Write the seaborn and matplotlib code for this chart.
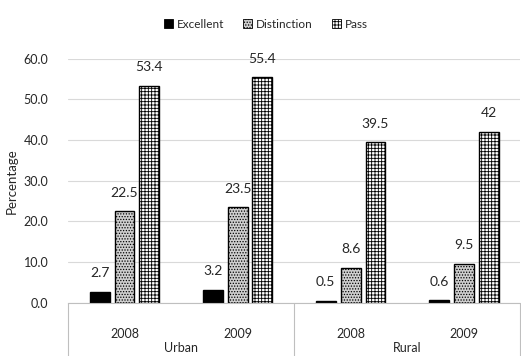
import numpy as np
import pandas as pd
import matplotlib
matplotlib.use('Agg')
import matplotlib.pyplot as plt
import seaborn as sns
from matplotlib.patches import Patch

# data
areas = ['Urban', 'Urban', 'Rural', 'Rural']
years = ['2008', '2009', '2008', '2009']
grades = ['Excellent', 'Distinction', 'Pass']
excellent = [2.7, 3.2, 0.5, 0.6]
distinction = [22.5, 23.5, 8.6, 9.5]
passed = [53.4, 55.4, 39.5, 42.0]
label_text = {
    'Excellent': ['2.7', '3.2', '0.5', '0.6'],
    'Distinction': ['22.5', '23.5', '8.6', '9.5'],
    'Pass': ['53.4', '55.4', '39.5', '42'],
}
y_ticks = [0, 10, 20, 30, 40, 50, 60]

slot = [f'{a}\n{y}' for a, y in zip(areas, years)]
df = pd.DataFrame({
    'slot': slot * 3,
    'grade': np.repeat(grades, len(slot)),
    'value': excellent + distinction + passed,
})

sns.set_theme(style='white')
plt.rcParams['font.family'] = ['Lato', 'DejaVu Sans']
plt.rcParams['hatch.linewidth'] = 0.6

fig = plt.figure(figsize=(5.21, 3.56), dpi=100)
ax = fig.add_axes([0.1305, 0.15, 0.868, 0.685])

sns.barplot(data=df, x='slot', y='value', hue='grade', hue_order=grades,
            order=slot, width=0.66, gap=0.2, ax=ax, legend=False,
            palette=['black', 'white', 'white'], edgecolor='black',
            linewidth=1.0, saturation=1)

styles = {
    'Excellent': dict(facecolor='black', hatch=None),
    'Distinction': dict(facecolor='#cfcfcf', hatch='......'),
    'Pass': dict(facecolor='white', hatch='+++++'),
}
txt = '#262626'
for cont, g in zip(ax.containers, grades):
    for bar in cont:
        bar.set_facecolor(styles[g]['facecolor'])
        if styles[g]['hatch']:
            bar.set_hatch(styles[g]['hatch'])
    ax.bar_label(cont, labels=label_text[g], padding=9, fontsize=10, color=txt)

ax.set_ylim(0, 60)
ax.set_xlim(-0.5, 3.5)
ax.set_yticks(y_ticks)
ax.set_yticklabels([f'{t:.1f}' for t in y_ticks], fontsize=9, color=txt)
ax.yaxis.grid(True, color='#d9d9d9', linewidth=0.8)
ax.set_axisbelow(True)
ax.tick_params(axis='y', length=0, pad=14)
ax.set_ylabel('Percentage', fontsize=9.5, color=txt, labelpad=4)
ax.set_xlabel('')

for s in ['top', 'right', 'left']:
    ax.spines[s].set_visible(False)
ax.spines['bottom'].set_color('#bfbfbf')
ax.spines['bottom'].set_linewidth(0.8)

# two-level category axis
ax.set_xticks(range(len(years)))
ax.set_xticklabels(years, fontsize=9, color=txt)
ax.tick_params(axis='x', length=0, pad=18)
for xa in [0, 0.5, 1.0]:
    ax.plot([xa, xa], [0, -0.3], transform=ax.transAxes, color='#bfbfbf',
            linewidth=0.8, clip_on=False)
for xa, name in [(0.25, 'Urban'), (0.75, 'Rural')]:
    ax.text(xa, -0.163, name, transform=ax.transAxes, ha='center', va='top',
            fontsize=9, color=txt)

handles = [Patch(facecolor=styles[g]['facecolor'], edgecolor='black',
                 hatch=styles[g]['hatch'], linewidth=0.6) for g in grades]
fig.legend(handles, grades, loc='center', bbox_to_anchor=(0.51, 0.932), ncol=3,
           frameon=False, fontsize=8.5, handlelength=0.8, handleheight=0.8,
           handletextpad=0.3, columnspacing=1.6)

fig.savefig('out.png', dpi=100)
